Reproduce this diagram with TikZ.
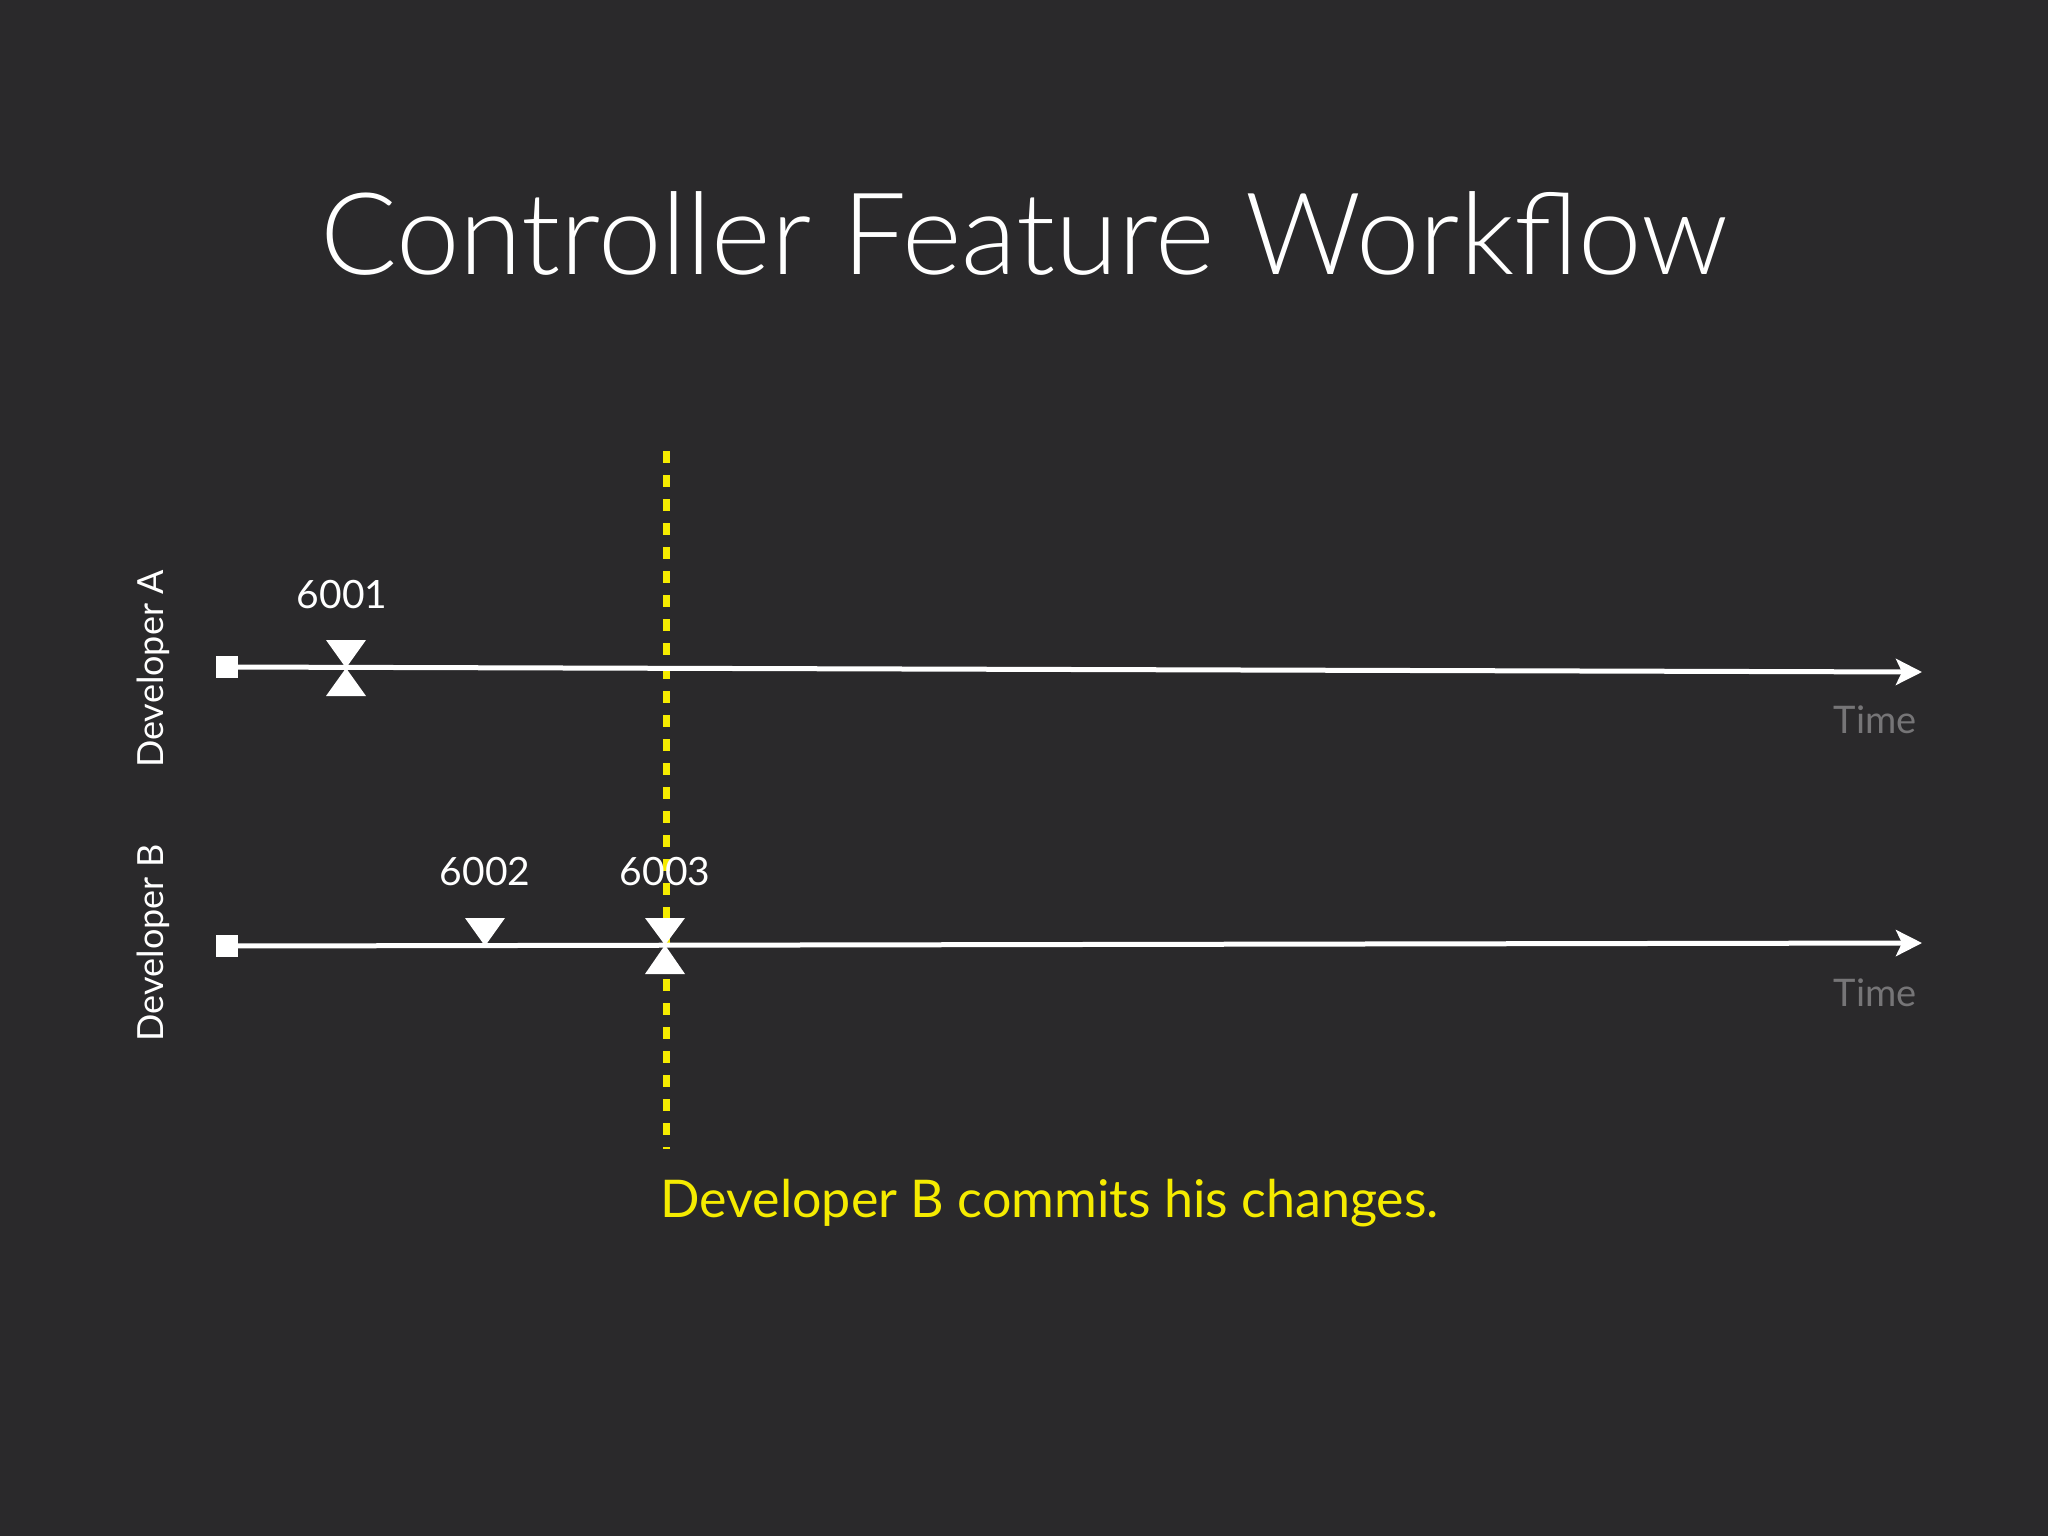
\documentclass[tikz,border=0pt]{standalone}
\usepackage{fontspec}
\setmainfont{Lato}
\newfontfamily\titlefont{Lato Light}
\usetikzlibrary{arrows.meta}
\definecolor{bg}{RGB}{42,41,43}
\definecolor{timegray}{RGB}{118,117,119}
\definecolor{cyel}{RGB}{245,235,0}
\tikzset{
  lbl/.style={text=white,font=\fontsize{19.5}{22}\selectfont,inner sep=0pt},
  devlbl/.style={text=white,font=\fontsize{18}{20}\selectfont,inner sep=0pt,rotate=90},
  timelbl/.style={text=timegray,font=\fontsize{19}{22}\selectfont,inner sep=0pt},
  startsq/.style={fill=white,draw=none,minimum size=11pt,inner sep=0pt,rectangle},
  tline/.style={white,line width=2.5pt,-{Stealth[length=13pt,width=13pt,inset=3pt]}},
  dn/.style={fill=white},
}
\begin{document}
\begin{tikzpicture}[x=0.5pt,y=-0.5pt]
\useasboundingbox (0,0) rectangle (2048,1536);
\fill[bg] (0,0) rectangle (2048,1536);
% title
\node[text=white,font=\titlefont\fontsize{57}{66}\selectfont,inner sep=0pt,anchor=base] (title) at (1024,274) {Controller Feature Workflow};
% dashed line
\coordinate (dtop) at (666,451);
\coordinate (dbot) at (666,1149);
\draw[cyel,line width=3.5pt,dash pattern=on 6pt off 6pt] (dtop) -- (dbot);
% lines
\node[startsq] (sa) at (227,667) {};
\node[startsq] (sb) at (227,946) {};
\coordinate (ea) at (1922,672);
\coordinate (eb) at (1922,943);
\draw[tline] (sa.center) -- (ea);
\draw[tline] (sb.center) -- (eb);
% markers A
\fill[dn] (326,640) -- (366,640) -- (346,668) -- cycle;
\fill[dn] (346,668) -- (366,696) -- (326,696) -- cycle;
% markers B
\fill[dn] (465,918) -- (505,918) -- (485,946) -- cycle;
\fill[dn] (645,918) -- (685,918) -- (665,945) -- cycle;
\fill[dn] (665,945) -- (685,974) -- (645,974) -- cycle;
% labels
\node[lbl] (l1) at (342,595) {6001};
\node[lbl] (l2) at (485,872) {6002};
\node[lbl] (l3) at (665,872) {6003};
\node[devlbl] (da) at (153,669) {Developer A};
\node[devlbl] (db) at (153,943) {Developer B};
\node[timelbl] (ta) at (1875,720) {Time};
\node[timelbl] (tb) at (1875,993) {Time};
\node[text=cyel,font=\fontsize{26}{30}\selectfont,inner sep=0pt,anchor=west] (cap) at (660,1203) {Developer B commits his changes.};
\end{tikzpicture}
\end{document}
